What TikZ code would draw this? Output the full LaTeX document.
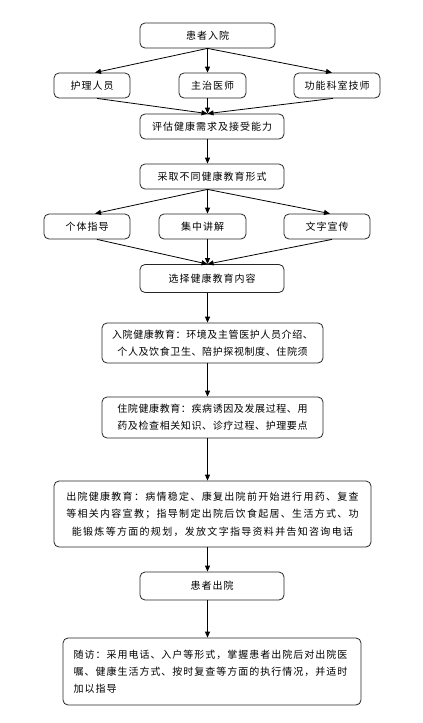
\documentclass[tikz,border=0pt]{standalone}
\usepackage{fontspec}
\setmainfont{Noto Sans CJK SC}
\newfontfamily\cjkA{Noto Sans CJK SC}[LetterSpace=10]
\newfontfamily\cjkB{Noto Sans CJK SC}[LetterSpace=6]
\newfontfamily\cjkC{Noto Sans CJK SC}[LetterSpace=13]
\usetikzlibrary{arrows.meta}
\begin{document}
\begin{tikzpicture}[x=1pt,y=-1pt,
  box/.style={draw=black!85,rounded corners=5pt,line width=0.8pt,inner sep=0pt,
    font=\cjkA\fontsize{10}{17}\selectfont},
  arr/.style={-{Triangle[length=6pt,width=5pt]},line width=0.8pt,draw=black}]
\useasboundingbox[fill=white] (0,0) rectangle (423,723);
\coordinate (ax) at (207.5,0);
\node[box,minimum width=135pt,minimum height=25pt] (n1) at (207.5,35.5) {患者入院};
\node[box,minimum width=76pt,minimum height=25pt] (a1) at (92,85.5) {护理人员};
\node[box,minimum width=67pt,minimum height=25pt] (a2) at (212.5,85.5) {主治医师};
\node[box,minimum width=86pt,minimum height=25pt] (a3) at (337,85.5) {功能科室技师};
\node[box,minimum width=144pt,minimum height=25pt] (n2) at (212,126.5) {评估健康需求及接受能力};
\node[box,minimum width=144pt,minimum height=25pt] (n3) at (212,176.5) {采取不同健康教育形式};
\node[box,minimum width=86pt,minimum height=25pt] (b1) at (87,226.5) {个体指导};
\node[box,minimum width=87pt,minimum height=25pt] (b2) at (202.5,226.5) {集中讲解};
\node[box,minimum width=86pt,minimum height=25pt] (b3) at (327,226.5) {文字宣传};
\node[box,minimum width=144pt,minimum height=28pt] (n4) at (212,278.5) {选择健康教育内容};
\node[box,minimum width=221pt,minimum height=40pt,align=center,font=\cjkB\fontsize{10}{17}\selectfont] (n5) at (212.5,343)
  {入院健康教育：环境及主管医护人员介绍、\\个人及饮食卫生、陪护探视制度、住院须};
\node[box,minimum width=221pt,minimum height=41pt,align=center,font=\cjkB\fontsize{10}{17}\selectfont] (n6) at (212.5,417.5)
  {住院健康教育：疾病诱因及发展过程、用\\药及检查相关知识、诊疗过程、护理要点};
\node[box,minimum width=317pt,minimum height=66pt,align=center,font=\cjkC\fontsize{10}{17.5}\selectfont] (n7) at (212.5,514)
  {出院健康教育：病情稳定、康复出院前开始进行用药、复查\\等相关内容宣教；指导制定出院后饮食起居、生活方式、功\\能锻炼等方面的规划，发放文字指导资料并告知咨询电话};
\node[box,minimum width=144pt,minimum height=28pt] (n8) at (212,586) {患者出院};
\node[box,minimum width=298pt,minimum height=67pt,align=left,text width=277pt] (n9) at (212,671.5)
  {随访：采用电话、入户等形式，掌握患者出院后对出院医\\嘱、健康生活方式、按时复查等方面的执行情况，并适时\\加以指导};
% connectors
\draw[arr] (n1.south -| ax) -- ([xshift=3pt]a1.north);
\draw[arr] (n1.south -| ax) -- (a2.north -| ax);
\draw[arr] (n1.south -| ax) -- ([xshift=-5pt]a3.north);
\draw[arr] ([xshift=5pt]a1.south) -- (n2.north -| ax);
\draw[arr] (a2.south -| ax) -- (n2.north -| ax);
\draw[arr] ([xshift=-4pt]a3.south) -- (n2.north -| ax);
\draw[arr] (n2.south -| ax) -- (n3.north -| ax);
\draw[arr] (n3.south -| ax) -- ([xshift=8pt]b1.north);
\draw[arr] (n3.south -| ax) -- (b2.north -| ax);
\draw[arr] (n3.south -| ax) -- ([xshift=3pt]b3.north);
\draw[arr] ([xshift=10pt]b1.south) -- (n4.north -| ax);
\draw[arr] (b2.south -| ax) -- (n4.north -| ax);
\draw[arr] ([xshift=5pt]b3.south) -- (n4.north -| ax);
\draw[arr] (n4.south -| ax) -- (n5.north -| ax);
\draw[arr] (n5.south -| ax) -- (n6.north -| ax);
\draw[arr] (n6.south -| ax) -- (n7.north -| ax);
\draw[arr] (n7.south -| ax) -- (n8.north -| ax);
\draw[arr] (n8.south -| ax) -- (n9.north -| ax);
\end{tikzpicture}
\end{document}
